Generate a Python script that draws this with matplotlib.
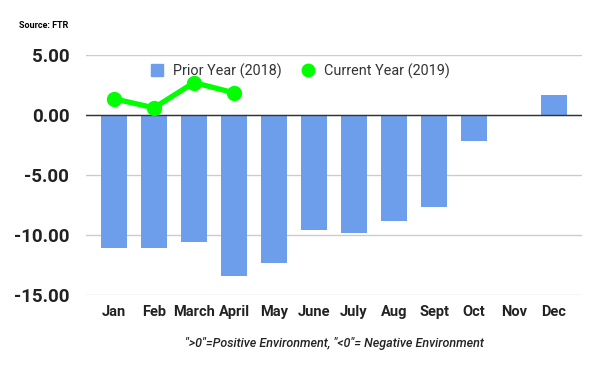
import matplotlib
matplotlib.use("Agg")
import matplotlib.pyplot as plt
from matplotlib.lines import Line2D
import numpy as np

months = ["Jan", "Feb", "March", "April", "May", "June", "July", "Aug", "Sept", "Oct", "Nov", "Dec"]
prior_year = [-11.1, -11.1, -10.55, -13.4, -12.3, -9.6, -9.85, -8.8, -7.65, -2.15, -0.05, 1.65]
current_year = [1.35, 0.6, 2.7, 1.85]
yticks = [5, 0, -5, -10, -15]

plt.rcParams['font.family'] = ['Roboto', 'DejaVu Sans']

fig = plt.figure(figsize=(6, 3.71), dpi=100)
ax = fig.add_axes([86/600, 1-295/371, (582-86)/600, (295-55)/371])

bar_color = "#6d9eeb"
line_color = "#00ff00"
x = np.arange(len(months))
ax.bar(x, prior_year, width=0.65, color=bar_color, zorder=2)
ax.plot(np.arange(len(current_year)), current_year, color=line_color, lw=3.8,
        marker="o", ms=10, zorder=3)

ax.set_xlim(-0.7, len(months) - 0.3)
ax.set_ylim(-15, 5)
ax.set_yticks(yticks)
ax.set_yticklabels([f"{v:.2f}" for v in yticks], fontsize=13.5, fontweight="bold", color="#222222")
ax.set_xticks(x)
ax.set_xticklabels(months, fontsize=10.5, fontweight="bold", color="#222222")
ax.tick_params(length=0)
ax.tick_params(axis="y", pad=12)
ax.tick_params(axis="x", pad=7)
ax.grid(axis="y", color="#cccccc", lw=1, zorder=0)
ax.axhline(0, color="#333333", lw=1, zorder=2.5)
for s in ax.spines.values():
    s.set_visible(False)

handles = [
    Line2D([], [], ls="none", marker="s", ms=9, color=bar_color, label="Prior Year (2018)"),
    Line2D([], [], ls="none", marker="o", ms=9, color=line_color, label="Current Year (2019)"),
]
fig.legend(handles=handles, loc="center", bbox_to_anchor=(0.5, 1-71/371), ncol=2, frameon=False,
           fontsize=10.4, handlelength=1.0, handletextpad=0.6, columnspacing=1.3,
           labelcolor="#333333")

fig.text(19/600, 1-25/371, "Source: FTR", fontsize=6.5, fontweight="bold", va="center", ha="left")
fig.text(334/600, 1-344/371, "\">0\"=Positive Environment, \"<0\"= Negative Environment",
         fontsize=9, style="italic", fontweight="medium", ha="center", va="center", color="#222222")

fig.savefig("out.png", dpi=100)
